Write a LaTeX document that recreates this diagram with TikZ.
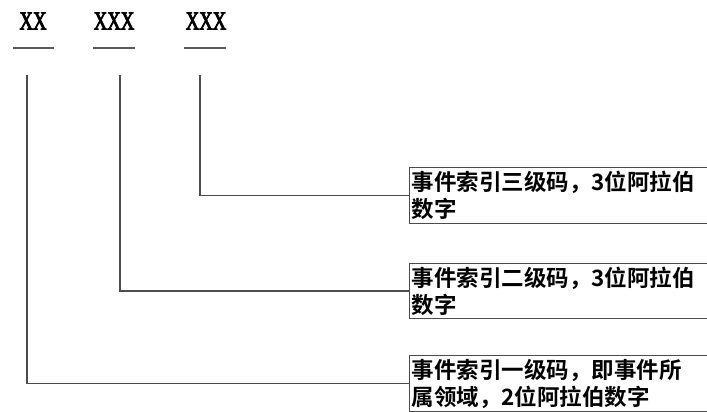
\documentclass[tikz,border=0pt]{standalone}
\usepackage{fontspec}
\setmainfont{Liberation Serif}
\newfontfamily\codefont[FakeStretch=0.72,FakeBold=3]{Liberation Serif}
\newfontfamily\cjk{Noto Sans CJK SC Bold}
\begin{document}
\begin{tikzpicture}[x=1pt,y=-1pt,
  conn/.style={draw=black!70,line width=1.6pt},
  uline/.style={draw=black!65,line width=1.6pt},
  code/.style={font=\codefont\fontsize{26}{26}\selectfont,inner sep=0pt},
  descbox/.style={draw=black!70,line width=1.2pt,anchor=north west,align=left,
    inner xsep=2pt,inner ysep=1pt,text width=310pt,
    font=\cjk\fontsize{22.5}{27}\selectfont}]
\useasboundingbox (0,0) rectangle (707,412);
\node[code] (c1) at (33,21) {XX};
\node[code] (c2) at (114,21) {XXX};
\node[code] (c3) at (206,21) {XXX};
\draw[uline] (13,48) -- (54,48);
\draw[uline] (93,48) -- (135,48);
\draw[uline] (184,48) -- (226,48);
\coordinate (v1) at (27,75);
\coordinate (v2) at (120,75);
\coordinate (v3) at (200,75);
\node[descbox,minimum height=56pt] (b3) at (409,167) {事件索引三级码，3位阿拉伯\\数字};
\node[descbox,minimum height=55pt] (b2) at (409,263) {事件索引二级码，3位阿拉伯\\数字};
\node[descbox,minimum height=56pt] (b1) at (409,355) {事件索引一级码，即事件所\\属领域，2位阿拉伯数字};
\draw[conn] (v3) |- (b3.west);
\draw[conn] (v2) |- (b2.west);
\draw[conn] (v1) |- (b1.west);
\end{tikzpicture}
\end{document}
